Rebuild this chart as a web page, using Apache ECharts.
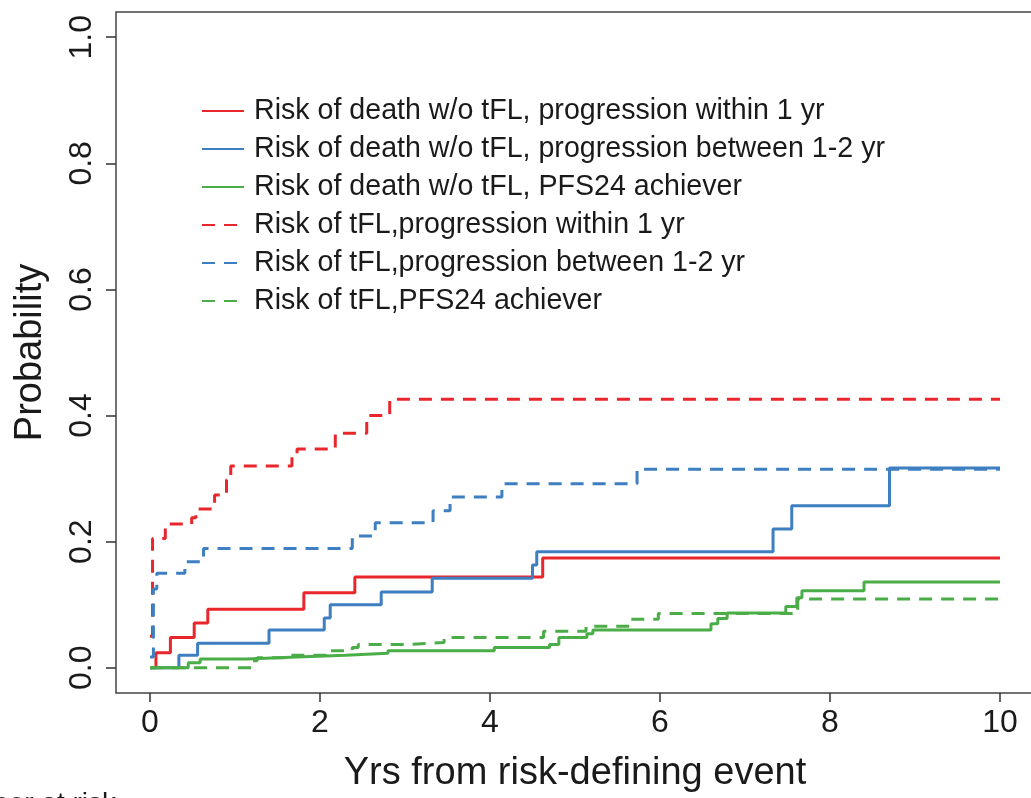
<!DOCTYPE html>
<html><head><meta charset="utf-8">
<script src="https://cdn.jsdelivr.net/npm/echarts@6/dist/echarts.min.js"></script>
<style>html,body{margin:0;padding:0;background:#fff}#c{width:1031px;height:798px}</style>
</head><body><div id="c"></div>
<script>
// Tick labels
const xTicks = [0, 2, 4, 6, 8, 10];
const yTicks = [0, 0.2, 0.4, 0.6, 0.8, 1.0];

// Series names (legend order)
const seriesNames = [
  'Risk of death w/o tFL, progression within 1 yr',
  'Risk of death w/o tFL, progression between 1-2 yr',
  'Risk of death w/o tFL, PFS24 achiever',
  'Risk of tFL,progression within 1 yr',
  'Risk of tFL,progression between 1-2 yr',
  'Risk of tFL,PFS24 achiever'
];

// Cumulative incidence step curves: times (yrs) and probabilities
const redDeathT = [0, 0.07, 0.24, 0.52, 0.68, 1.81, 2.41, 4.62, 10];
const redDeathP = [0, 0.024, 0.048, 0.071, 0.093, 0.119, 0.144, 0.174, 0.174];

const blueDeathT = [0, 0.34, 0.56, 1.4, 2.05, 2.12, 2.72, 3.32, 4.5, 4.55, 7.33, 7.55, 8.7, 10];
const blueDeathP = [0, 0.02, 0.039, 0.06, 0.079, 0.1, 0.12, 0.142, 0.163, 0.184, 0.22, 0.257, 0.317, 0.317];

const greenDeathT = [0, 0.45, 0.59, 1.14, 1.73, 2.3, 2.8, 4.05, 4.7, 4.81, 5.14, 5.21, 6.6, 6.68, 6.79, 7.48, 7.61, 7.67, 8.4, 10];
const greenDeathP = [0, 0.008, 0.014, 0.017, 0.02, 0.023, 0.027, 0.032, 0.037, 0.048, 0.054, 0.06, 0.07, 0.078, 0.087, 0.097, 0.111, 0.122, 0.136, 0.136];

const redTflT = [0, 0.03, 0.18, 0.49, 0.54, 0.76, 0.9, 0.95, 1.67, 1.73, 2.18, 2.55, 2.82, 10];
const redTflP = [0.05, 0.205, 0.228, 0.238, 0.252, 0.274, 0.298, 0.32, 0.337, 0.347, 0.372, 0.4, 0.426, 0.426];

const blueTflT = [0, 0.04, 0.08, 0.41, 0.63, 2.38, 2.65, 3.33, 3.53, 4.14, 5.73, 10];
const blueTflP = [0.017, 0.125, 0.15, 0.168, 0.189, 0.209, 0.23, 0.249, 0.271, 0.292, 0.315, 0.315];

const greenTflT = [0, 1.2, 1.26, 1.65, 2.1, 2.38, 2.45, 3.04, 3.46, 4.63, 5.13, 5.65, 5.98, 7.62, 10];
const greenTflP = [0, 0.011, 0.016, 0.02, 0.027, 0.032, 0.037, 0.04, 0.048, 0.058, 0.066, 0.077, 0.086, 0.109, 0.109];

const RED = '#e8262b', BLUE = '#3d7fc1', GREEN = '#4bad47';
const FONT = "'Liberation Sans', Arial, sans-serif";

function pairs(t, p) { return t.map((v, i) => [v, p[i]]); }

const curves = [
  { t: redDeathT, p: redDeathP, c: RED, dash: 'solid' },
  { t: blueDeathT, p: blueDeathP, c: BLUE, dash: 'solid' },
  { t: greenDeathT, p: greenDeathP, c: GREEN, dash: 'solid' },
  { t: redTflT, p: redTflP, c: RED, dash: [13, 9] },
  { t: blueTflT, p: blueTflP, c: BLUE, dash: [13, 9] },
  { t: greenTflT, p: greenTflP, c: GREEN, dash: [13, 9] }
];

const chart = echarts.init(document.getElementById('c'), null, { renderer: 'canvas' });
chart.setOption({
  animation: false,
  backgroundColor: '#fff',
  textStyle: { fontFamily: FONT },
  grid: { left: 116, top: 12, right: -3, bottom: 105, outerBoundsMode: 'none', show: true, borderColor: '#444', borderWidth: 1.5, backgroundColor: 'transparent' },
  xAxis: {
    type: 'value', min: -0.4, max: 10.4,
    name: 'Yrs from risk-defining event', nameLocation: 'middle', nameGap: 62,
    nameTextStyle: { fontSize: 38, color: '#1a1a1a', fontFamily: FONT },
    axisLine: { show: false, onZero: false },
    axisTick: { show: true, inside: false, length: 9, customValues: xTicks, lineStyle: { color: '#333', width: 1.5 } },
    axisLabel: { customValues: xTicks, fontSize: 32, color: '#1a1a1a', margin: 14, fontFamily: FONT, formatter: v => String(v) },
    splitLine: { show: false }
  },
  yAxis: {
    type: 'value', min: -0.04, max: 1.04,
    name: 'Probability', nameLocation: 'middle', nameGap: 66, nameRotate: 90,
    nameTextStyle: { fontSize: 38, color: '#1a1a1a', fontFamily: FONT },
    axisLine: { show: false, onZero: false },
    axisTick: { show: true, inside: false, length: 10, customValues: yTicks, lineStyle: { color: '#333', width: 1.5 } },
    axisLabel: { customValues: yTicks, rotate: 90, fontSize: 32, color: '#1a1a1a', margin: 18, fontFamily: FONT, formatter: v => v.toFixed(1) },
    splitLine: { show: false }
  },
  legend: {
    show: true, orient: 'vertical', left: 196, top: 91,
    itemWidth: 42, itemHeight: 20, itemGap: 8,
    data: seriesNames,
    itemStyle: { opacity: 0 },
    lineStyle: { width: 2 },
    textStyle: { fontSize: 28.6, lineHeight: 30, color: '#1a1a1a', fontFamily: FONT, padding: [0, 0, 0, 5] }
  },
  graphic: [{
    type: 'text', left: -66, top: 790, silent: true,
    style: { text: 'Number at risk', fontSize: 28, fontFamily: FONT, fill: '#1a1a1a' }
  }],
  series: curves.map((c, i) => ({
    name: seriesNames[i], type: 'line', step: 'end', symbol: 'none', showSymbol: false,
    data: pairs(c.t, c.p),
    itemStyle: { color: c.c },
    lineStyle: { color: c.c, width: 3, type: c.dash },
    z: 2
  }))
});
</script></body></html>
